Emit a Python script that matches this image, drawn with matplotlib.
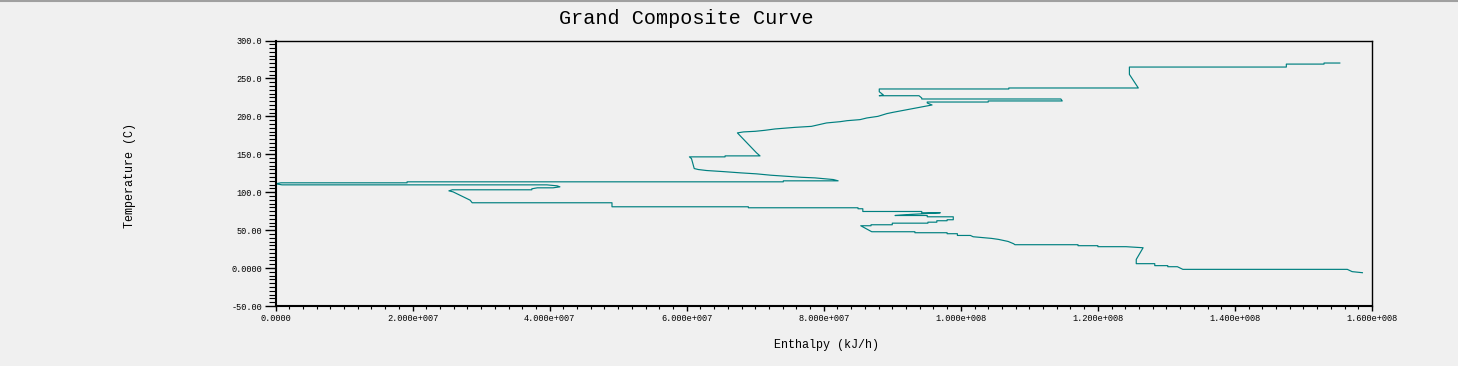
import matplotlib
matplotlib.use("Agg")
import matplotlib.pyplot as plt
from matplotlib.lines import Line2D
from matplotlib.ticker import FixedLocator, MultipleLocator

# grand composite curve, enthalpy in 1e6 kJ/h, temperature in C
enthalpy = [155.3, 153.0, 153.0, 147.5, 147.5, 124.6, 124.6, 125.9, 107.0, 107.0,
            88.1, 88.1, 88.7, 88.1, 93.9, 94.3, 94.3, 114.6, 114.8, 104.0,
            104.0, 95.1, 95.1, 95.8, 90.1, 89.2, 87.9, 86.3, 85.3, 83.4,
            82.4, 80.4, 78.2, 75.8, 72.9, 71.4, 70.0, 68.3, 67.4, 70.2,
            70.7, 65.6, 65.6, 60.4, 60.7, 61.1, 61.7, 62.9, 65.3, 67.9,
            70.2, 72.3, 74.5, 76.7, 78.7, 80.3, 81.4, 82.1, 74.1, 74.1,
            19.2, 19.2, 0.8, 0.0, 0.95, 39.6, 41.1, 41.5, 40.5, 38.2,
            37.4, 37.4, 25.8, 25.3, 25.9, 26.8, 27.7, 28.4, 28.7, 49.1,
            49.1, 69.0, 69.0, 85.0, 85.0, 85.7, 85.7, 94.3, 94.3, 97.0,
            92.6, 90.4, 95.1, 95.1, 98.9, 98.9, 98.0, 98.0, 96.5, 96.5,
            95.2, 95.2, 90.0, 90.0, 86.9, 86.9, 85.4, 87.0, 93.3, 93.3,
            98.0, 98.0, 99.5, 99.5, 101.4, 101.8, 103.3, 104.5, 105.5, 106.2,
            106.9, 107.7, 107.9, 117.1, 117.1, 120.0, 120.0, 124.1, 126.6, 125.6,
            125.6, 128.3, 128.3, 130.2, 130.2, 131.6, 132.4, 156.4, 157.1, 158.6]
temperature = [270.3, 270.3, 268.9, 268.9, 265.0, 265.0, 255.3, 237.4, 237.4, 236.1,
               236.1, 232.5, 228.2, 227.2, 227.2, 224.2, 222.9, 222.9, 220.3, 220.3,
               218.9, 218.9, 217.6, 215.0, 205.3, 203.6, 200.0, 197.9, 195.7, 194.3,
               193.0, 191.3, 186.8, 185.5, 183.4, 181.6, 180.3, 179.5, 178.2, 151.8,
               147.9, 147.9, 146.6, 146.6, 144.3, 131.2, 129.9, 128.6, 127.2, 125.5,
               124.2, 122.4, 121.1, 119.7, 118.9, 117.6, 116.7, 115.0, 115.0, 113.7,
               113.7, 112.4, 112.4, 111.1, 109.7, 109.7, 108.4, 107.1, 105.8, 105.8,
               104.5, 103.2, 103.2, 101.8, 100.5, 96.6, 92.6, 89.5, 86.1, 86.1,
               80.8, 80.8, 79.5, 79.5, 78.2, 78.2, 74.6, 74.6, 72.9, 72.9,
               70.7, 69.3, 69.3, 67.6, 67.6, 63.7, 63.7, 62.4, 62.4, 60.5,
               60.5, 59.2, 59.2, 57.1, 57.1, 55.8, 55.8, 47.9, 47.9, 46.6,
               46.6, 45.3, 45.3, 43.0, 43.0, 41.3, 40.0, 39.1, 37.8, 36.4,
               35.1, 32.1, 30.8, 30.8, 29.5, 29.5, 28.2, 28.2, 26.8, 11.4,
               5.8, 5.8, 3.2, 3.2, 1.8, 1.8, -1.7, -1.7, -4.7, -6.1]

xticks = [0, 2e7, 4e7, 6e7, 8e7, 1e8, 1.2e8, 1.4e8, 1.6e8]
xtick_labels = ["0.0000", "2.000e+007", "4.000e+007", "6.000e+007", "8.000e+007",
                "1.000e+008", "1.200e+008", "1.400e+008", "1.600e+008"]
yticks = [-50, 0, 50, 100, 150, 200, 250, 300]
ytick_labels = ["-50.00", "0.0000", "50.00", "100.0", "150.0", "200.0", "250.0", "300.0"]

bg = "#f0f0f0"
mono = ["Liberation Mono", "DejaVu Sans Mono"]

fig = plt.figure(figsize=(14.58, 3.66), dpi=100, facecolor=bg)
ax = fig.add_axes([275.5 / 1458, 1 - 306 / 366, (1372 - 275.5) / 1458, (306 - 40.5) / 366])
ax.set_facecolor(bg)

ax.plot([h * 1e6 for h in enthalpy], temperature, color="#008080", lw=0.85)

ax.set_xlim(0, 1.6e8)
ax.set_ylim(-50, 300)

ax.xaxis.set_major_locator(FixedLocator(xticks))
ax.set_xticklabels(xtick_labels)
ax.xaxis.set_minor_locator(MultipleLocator(2e6))
ax.yaxis.set_major_locator(FixedLocator(yticks))
ax.set_yticklabels(ytick_labels)
ax.yaxis.set_minor_locator(MultipleLocator(5))

ax.tick_params(axis="x", which="major", length=3.5, width=1, pad=2)
ax.tick_params(axis="x", which="minor", length=1.8, width=0.8)
ax.tick_params(axis="y", which="major", length=8, width=1, pad=1.5)
ax.tick_params(axis="y", which="minor", length=5, width=0.8)
for lab in ax.get_xticklabels() + ax.get_yticklabels():
    lab.set_family(mono)
    lab.set_fontsize(6.2)

ax.spines["left"].set_linewidth(1.5)
ax.spines["bottom"].set_linewidth(1.5)
ax.spines["top"].set_linewidth(1.0)
ax.spines["right"].set_linewidth(1.0)

fig.text(686.5 / 1458, 1 - 18 / 366, "Grand Composite Curve", ha="center", va="center",
         family=mono, fontsize=14.5)
fig.text(826 / 1458, 1 - 345 / 366, "Enthalpy (kJ/h)", ha="center", va="center",
         family=mono, fontsize=8.5)
fig.text(130 / 1458, 1 - 175 / 366, "Temperature (C)", ha="center", va="center",
         rotation=90, family=mono, fontsize=8.5)

# thin frame line along the top of the window
fig.add_artist(Line2D([0, 1], [0.997, 0.997], transform=fig.transFigure, color="#a0a0a0", lw=1.5))

fig.savefig("out.png", dpi=100, facecolor=bg)
